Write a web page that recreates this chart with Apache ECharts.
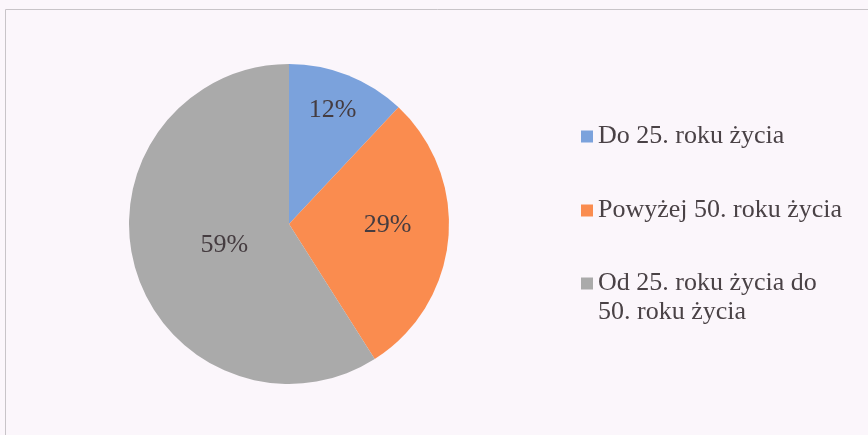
<!DOCTYPE html>
<html>
<head>
<meta charset="utf-8">
<script src="https://cdn.jsdelivr.net/npm/echarts@6/dist/echarts.min.js"></script>
<style>
  html, body { margin: 0; padding: 0; background: #fbf6fb; }
  #chart { width: 868px; height: 435px; }
</style>
</head>
<body>
<div id="chart"></div>
<script>
// dane wykresu
const categories = ['Do 25. roku życia', 'Powyżej 50. roku życia', 'Od 25. roku życia do\n50. roku życia']
const shares = [12, 29, 59]
const colors = ['#7ba2dc', '#fa8c4f', '#aaaaaa']

// przesunięcia etykiet w wycinkach (jak w oryginale)
const labelOffsets = [[13, -37], [16, -7], [15, -2]]
const legendTops = [122, 196, 240]

const chart = echarts.init(document.getElementById('chart'))
const font = '"Liberation Serif", "Times New Roman", serif'

const option = {
  backgroundColor: '#fbf6fb',
  animation: false,
  graphic: [
    {
      type: 'rect',
      shape: { x: 5.5, y: 9.5, width: 880, height: 440 },
      style: { fill: 'none', stroke: '#c8c4c8', lineWidth: 1 },
    },
  ],
  legend: categories.map((name, i) => {
    return {
      orient: 'vertical',
      left: 581,
      top: legendTops[i],
      padding: 0,
      data: [name],
      icon: 'rect',
      itemWidth: 12,
      itemHeight: 12,
      itemGap: 4,
      // znacznik wyrównany do pierwszej linii opisu
      formatter: (n) => (n.indexOf('\n') > -1 ? '\n' + n : n),
      textStyle: {
        fontFamily: font,
        fontSize: 26,
        color: '#4a4246',
        lineHeight: 29,
      },
      selectedMode: false,
    }
  }),
  series: [
    {
      type: 'pie',
      center: [289, 224],
      radius: 160,
      startAngle: 90,
      clockwise: true,
      silent: true,
      label: {
        show: true,
        position: 'inside',
        fontFamily: font,
        fontSize: 26,
        color: '#453c40',
        formatter: '{c}%',
      },
      labelLine: { show: false },
      emphasis: { disabled: true },
      data: categories.map((name, i) => {
        return {
          name: name,
          value: shares[i],
          itemStyle: { color: colors[i] },
          label: { offset: labelOffsets[i] },
        }
      }),
    },
  ],
}
chart.setOption(option)
</script>
</body>
</html>
